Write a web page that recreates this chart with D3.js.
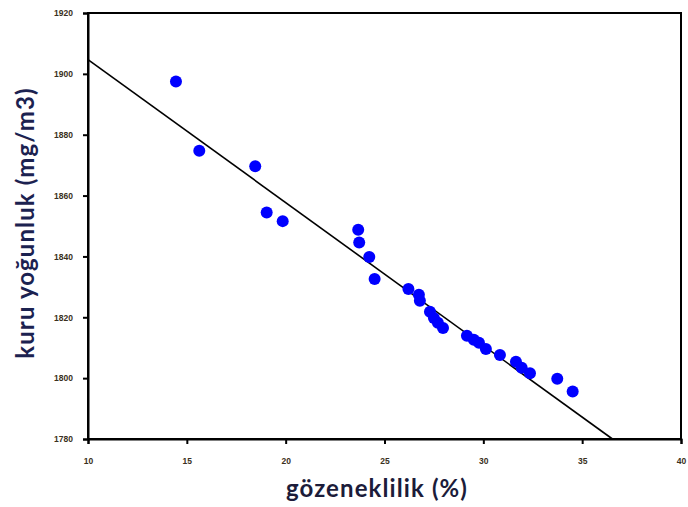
<!DOCTYPE html>
<html><head><meta charset="utf-8">
<script src="https://cdn.jsdelivr.net/npm/d3@7"></script>
<style>body{margin:0;background:#fff}svg{display:block}</style>
</head><body>
<script>
const porosity = [14.45,15.63,18.46,19.04,19.85,23.67,23.72,24.23,24.5,26.21,26.74,26.79,27.3,27.5,27.7,27.96,29.17,29.52,29.78,30.13,30.84,31.65,31.94,32.36,33.74,34.52];
const density  = [1897.5,1874.7,1869.6,1854.4,1851.6,1848.75,1844.6,1839.8,1832.6,1829.3,1827.4,1825.4,1821.8,1819.8,1818.2,1816.5,1813.9,1812.6,1811.6,1809.6,1807.6,1805.4,1803.4,1801.6,1799.8,1795.6];
const xTicks = [10,15,20,25,30,35,40];
const yTicks = [1780,1800,1820,1840,1860,1880,1900,1920];
const fitIntercept = 1951.7, fitSlope = -4.70;
const fitX = [10, 36.55];

const W=688,H=507, m={l:88,r:7,t:13,b:68};
const svg=d3.select("body").append("svg").attr("width",W).attr("height",H);
const x=d3.scaleLinear().domain([10,40]).range([m.l,W-m.r]);
const y=d3.scaleLinear().domain([1780,1920]).range([H-m.b,m.t]);

svg.append("rect").attr("x",x(10)).attr("y",y(1920)).attr("width",x(40)-x(10)).attr("height",y(1780)-y(1920))
  .attr("fill","none").attr("stroke","#000").attr("stroke-width",2);

const gx=svg.append("g").attr("transform",`translate(0,${y(1780)})`)
  .call(d3.axisBottom(x).tickValues(xTicks).tickSize(5).tickPadding(14).tickFormat(d3.format("d")));
const gy=svg.append("g").attr("transform",`translate(${x(10)},0)`)
  .call(d3.axisLeft(y).tickValues(yTicks).tickSize(5).tickPadding(10).tickFormat(d3.format("d")));
[gx,gy].forEach(g=>{
  g.select(".domain").attr("stroke","#000").attr("stroke-width",2);
  g.selectAll(".tick line").attr("stroke","#000").attr("stroke-width",2);
  g.selectAll(".tick text").attr("fill","#3a3020").style("font-family","Liberation Sans").style("font-size","8.5px").style("font-weight","bold");
});

svg.append("line").attr("x1",x(fitX[0])).attr("y1",y(fitIntercept+fitSlope*fitX[0]))
  .attr("x2",x(fitX[1])).attr("y2",y(fitIntercept+fitSlope*fitX[1]))
  .attr("stroke","#000").attr("stroke-width",1.6);

svg.append("g").selectAll("circle").data(porosity).join("circle")
  .attr("cx",d=>x(d)).attr("cy",(d,i)=>y(density[i])).attr("r",6).attr("fill","#0000ff");

svg.append("text").attr("x",377).attr("y",497).attr("text-anchor","middle")
  .style("font-family","Lato").style("font-weight","bold").style("font-size","24px").style("letter-spacing","1.1px").attr("fill","#1c1c3a")
  .text("gözeneklilik (%)");
svg.append("text").attr("transform","translate(34,223) rotate(-90)").attr("text-anchor","middle")
  .style("font-family","Lato").style("font-weight","bold").style("font-size","24px").style("letter-spacing","1.1px").attr("fill","#1c2250")
  .text("kuru yoğunluk (mg/m3)");
</script>
</body></html>
